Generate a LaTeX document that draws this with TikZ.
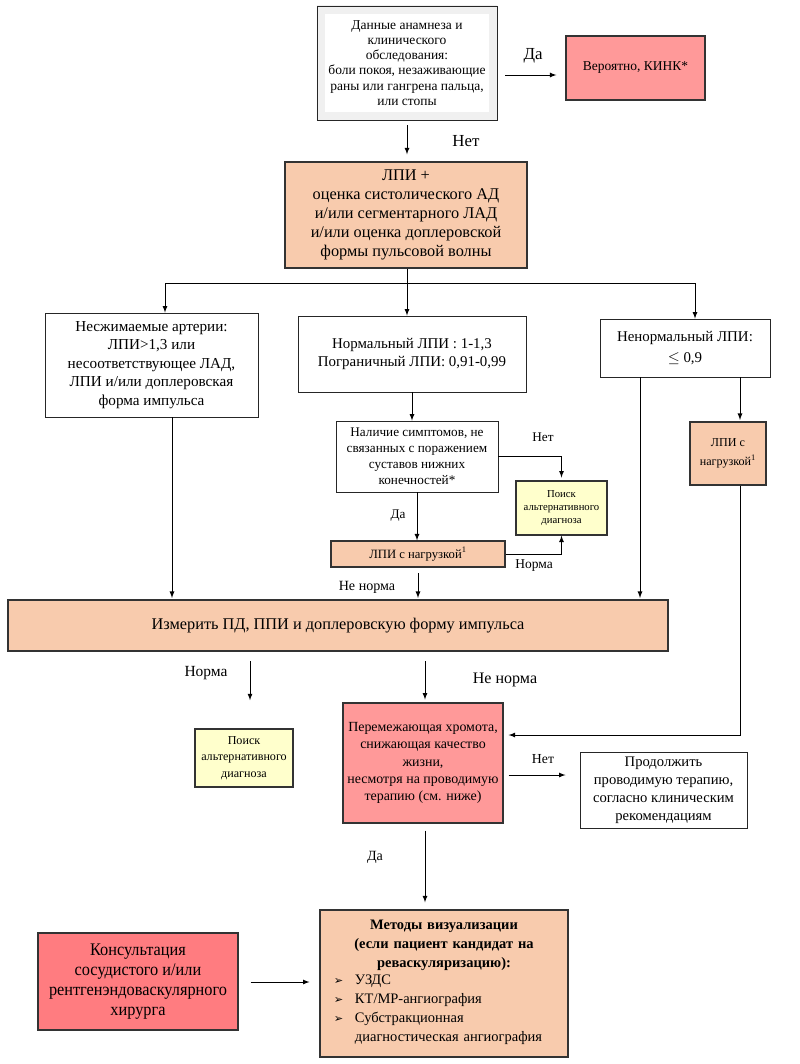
\documentclass[tikz,border=0pt]{standalone}
\usepackage{fontspec}
\setmainfont{Liberation Serif}
\newfontfamily\symfont{DejaVu Sans}
\newfontfamily\narrowfont[FakeStretch=0.92]{Liberation Serif}
\usepackage{xcolor}
\usepackage{tikz}
\usetikzlibrary{arrows, positioning, calc}
\definecolor{peach}{HTML}{F8CBAD}
\definecolor{pinkred}{HTML}{FF9999}
\definecolor{deepred}{HTML}{FF7C80}
\definecolor{paleyellow}{HTML}{FFFFCC}
\definecolor{bandgray}{HTML}{F0F0F0}
\tikzstyle{whitebox} = [rectangle, draw=black!85, line width=0.6pt, fill=white, align=center, inner sep=1pt]
\tikzstyle{peachbox} = [rectangle, draw=black!80, line width=0.9pt, fill=peach, align=center, inner sep=1pt]
\tikzstyle{pinkbox} = [rectangle, draw=black!80, line width=0.9pt, fill=pinkred, align=center, inner sep=1pt]
\tikzstyle{redbox} = [rectangle, draw=black!80, line width=0.9pt, fill=deepred, align=center, inner sep=1pt]
\tikzstyle{altbox} = [rectangle, draw=black!80, line width=0.9pt, fill=paleyellow, align=center, inner sep=1pt]
\tikzstyle{framed} = [path picture={\draw[bandgray, line width=12pt] (path picture bounding box.south west) rectangle (path picture bounding box.north east);}]
\tikzstyle{arrow} = [->, >=latex, line width=0.6pt]
\tikzstyle{line} = [line width=0.6pt]

\begin{document}
\begin{tikzpicture}[x=0.025cm, y=-0.025cm]
      \useasboundingbox (0,0) rectangle (800,1064);

      % Top of the scheme
      \node[whitebox, framed, minimum width=4.5cm, minimum height=2.85cm, font=\fontsize{9.6}{10.8}\selectfont] (anam) at (407,63) {Данные анамнеза и\\клинического\\обследования:\\боли покоя, незаживающие\\раны или гангрена пальца,\\или стопы};
      \node[pinkbox, minimum width=3.475cm, minimum height=1.6cm, font=\fontsize{9.6}{11}\selectfont] (kink) at (635.5,68) {Вероятно, КИНК*};
      \node[peachbox, minimum width=6.05cm, minimum height=2.65cm, font=\fontsize{11.6}{13.6}\selectfont] (lpi) at (406,215) {ЛПИ +\\оценка систолического АД\\и/или сегментарного ЛАД\\и/или оценка доплеровской\\формы пульсовой волны};

      % Three branches
      \node[whitebox, minimum width=5.325cm, minimum height=2.6cm, font=\fontsize{10.8}{13.2}\selectfont] (noncomp) at (151.5,365) {Несжимаемые артерии:\\ЛПИ>1,3 или\\несоответствующее ЛАД,\\ЛПИ и/или доплеровская\\форма импульса};
      \node[whitebox, minimum width=5.7cm, minimum height=1.9cm, font=\fontsize{10.6}{12.4}\selectfont] (normal) at (412,354) {Нормальный ЛПИ : 1-1,3\\Пограничный ЛПИ: 0,91-0,99};
      \node[whitebox, minimum width=4.25cm, minimum height=1.45cm, font=\fontsize{10.6}{14.6}\selectfont] (abnormal) at (685,348) {Ненормальный ЛПИ:\\$\le$ 0,9};

      % Middle part
      \node[whitebox, minimum width=4.05cm, minimum height=1.775cm, font=\fontsize{9.4}{11.4}\selectfont] (symp) at (417,456.5) {Наличие симптомов, не\\связанных с поражением\\суставов нижних\\конечностей*};
      \node[altbox, minimum width=2.275cm, minimum height=1.35cm, font=\fontsize{7.6}{9.2}\selectfont] (alt1) at (561.5,508) {Поиск\\альтернативного\\диагноза};
      \node[peachbox, minimum width=4.35cm, minimum height=0.65cm, font=\fontsize{9}{10}\selectfont] (stress) at (418,554) {ЛПИ с нагрузкой\textsuperscript{1}};
      \node[peachbox, minimum width=1.9cm, minimum height=1.575cm, font=\fontsize{8.6}{13.4}\selectfont] (stressR) at (728,453.5) {ЛПИ с\\нагрузкой\textsuperscript{1}};
      \node[peachbox, minimum width=16.5cm, minimum height=1.275cm, font=\fontsize{11.6}{14}\selectfont] (measure) at (338,625.5) {Измерить ПД, ППИ и доплеровскую форму импульса};

      % Lower part
      \node[altbox, minimum width=2.45cm, minimum height=1.45cm, font=\fontsize{8.6}{11.7}\selectfont] (alt2) at (244,758) {Поиск\\альтернативного\\диагноза};
      \node[pinkbox, minimum width=4cm, minimum height=3cm, font=\fontsize{9.9}{12.4}\selectfont] (claud) at (423,763) {Перемежающая хромота,\\снижающая качество\\жизни,\\несмотря на проводимую\\терапию (см. ниже)};
      \node[whitebox, minimum width=4.175cm, minimum height=1.9cm, font=\fontsize{10.4}{12.8}\selectfont] (cont) at (663.5,790) {Продолжить\\проводимую терапию,\\согласно клиническим\\рекомендациям};
      \node[peachbox, minimum width=6.2cm, minimum height=3.675cm, text width=5.9cm, font=\fontsize{10.3}{13.5}\selectfont] (methods) at (444,983.5) {\textbf{Методы визуализации}\\\textbf{(если пациент кандидат на}\\\textbf{реваскуляризацию):}\\[-1pt]
        \makebox[5.9cm][l]{\hspace*{0.2cm}\begin{tabular}{@{}l@{\hspace{0.8em}}l@{}}
          {\symfont\fontsize{8}{9}\selectfont ➢} & УЗДС\\
          {\symfont\fontsize{8}{9}\selectfont ➢} & КТ/МР-ангиография\\
          {\symfont\fontsize{8}{9}\selectfont ➢} & Субстракционная\\
           & диагностическая ангиография
        \end{tabular}}};
      \node[redbox, minimum width=5cm, minimum height=2.425cm, font=\narrowfont\fontsize{12.6}{14.4}\selectfont] (consult) at (138,981.5) {Консультация\\сосудистого и/или\\рентгенэндоваскулярного\\хирурга};

      % Branch points
      \coordinate (brL) at (165,283);
      \coordinate (brM) at (407,283);
      \coordinate (brR) at (695,283);

      % Connectors
      \draw[arrow] ([shift={(8,12)}]anam.east) -- ([shift={(-9,7)}]kink.west);
      \draw[arrow, shorten <=3.5pt, shorten >=5pt] (anam.south) -- (anam.south |- lpi.north);
      \draw[line] (lpi.south -| brM) -- (brM);
      \draw[line] (brL) -- (brR);
      \draw[arrow] (brL) -- (brL |- noncomp.north);
      \draw[arrow] (brM) -- (brM |- normal.north);
      \draw[arrow] (brR) -- (brR |- abnormal.north);
      \draw[arrow] (normal.south) -- (normal.south |- symp.north);
      \draw[arrow, shorten >=2pt] (symp.east) -| (alt1.north);
      \draw[arrow] (symp.south) -- (symp.south |- stress.north);
      \draw[arrow] (stress.east) -| (alt1.south);
      \draw[arrow, shorten <=4pt, shorten >=1pt] (stress.south) -- (stress.south |- measure.north);
      \draw[arrow, shorten >=1pt] (noncomp.south -| 172,0) -- (measure.north -| 172,0);
      \draw[arrow, shorten >=1pt] (abnormal.south -| 640,0) -- (measure.north -| 640,0);
      \draw[arrow, shorten >=1pt] (abnormal.south -| 740,0) -- (stressR.north -| 740,0);
      \draw[arrow] (stressR.south -| 740,0) |- ([shift={(5,0)}]claud.east |- 0,735);
      \draw[arrow, shorten <=7pt, shorten >=20pt] (measure.south -| 250,0) -- (alt2.north -| 250,0);
      \draw[arrow, shorten <=7pt, shorten >=2pt] (measure.south -| 425,0) -- (claud.north -| 425,0);
      \draw[arrow, shorten <=3.5pt, shorten >=10pt] (claud.east |- 0,775) -- (cont.west |- 0,775);
      \draw[arrow, shorten <=5pt, shorten >=5pt] (claud.south -| 425,0) -- (methods.north -| 425,0);
      \draw[arrow, shorten <=8.5pt, shorten >=7pt] (consult.east |- 0,982) -- (methods.west |- 0,982);

      % Labels
      \node[font=\fontsize{12}{14}\selectfont] (l_yes1) at (533,56) {Да};
      \node[font=\fontsize{12}{14}\selectfont] (l_no1) at (466,141) {Нет};
      \node[font=\fontsize{9.4}{11}\selectfont] (l_no2) at (543,437) {Нет};
      \node[font=\fontsize{9.4}{11}\selectfont] (l_yes2) at (398,516) {Да};
      \node[font=\fontsize{9.6}{11}\selectfont] (l_norm1) at (534,566) {Норма};
      \node[font=\fontsize{10}{11}\selectfont] (l_abn1) at (367,587) {Не норма};
      \node[font=\fontsize{11}{12}\selectfont] (l_norm2) at (206,673) {Норма};
      \node[font=\fontsize{11.4}{12}\selectfont] (l_abn2) at (505,680) {Не норма};
      \node[font=\fontsize{9.8}{11}\selectfont] (l_no3) at (543,759) {Нет};
      \node[font=\fontsize{10}{11}\selectfont] (l_yes3) at (375,857) {Да};
    \end{tikzpicture}
\end{document}
